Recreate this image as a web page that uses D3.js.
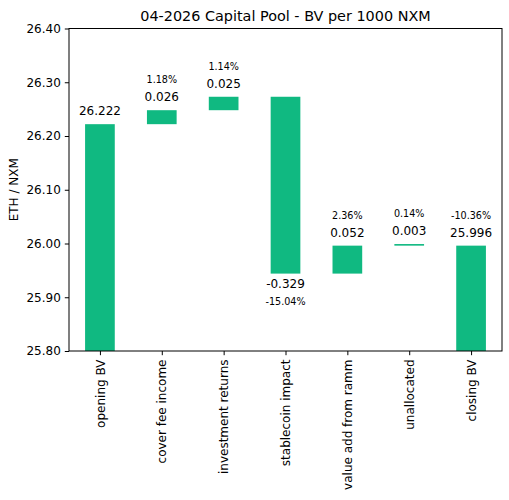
<!DOCTYPE html>
<html>
<head>
<meta charset="utf-8">
<script src="https://cdn.jsdelivr.net/npm/d3@7"></script>
<style>
  body { margin: 0; background: #fff; }
  svg text { font-family: "DejaVu Sans", sans-serif; fill: #000; }
</style>
</head>
<body>
<svg id="chart" width="509" height="500"></svg>
<script>
// =========================
// DADES
// =========================
const categories = ["opening BV", "cover fee income", "investment returns", "stablecoin impact",
  "value add from ramm", "unallocated", "closing BV"];
const changes = [26.222, 0.026, 0.025, -0.329, 0.052, 0.003, 25.996];
const valueLabels = ["26.222", "0.026", "0.025", "-0.329", "0.052", "0.003", "25.996"];
const pctLabels = ["", "1.18%", "1.14%", "-15.04%", "2.36%", "0.14%", "-10.36%"];
const yTicks = [25.80, 25.90, 26.00, 26.10, 26.20, 26.30, 26.40];

const title = "04-2026 Capital Pool - BV per 1000 NXM";
const yTitle = "ETH / NXM";
const barColor = "#10b981";

// =========================
// CÀLCUL CASCADA
// =========================
const yMin = 25.80;
let running = 0;
const bars = categories.map((c, i) => {
  let y0, y1;
  if (i === 0) { y0 = yMin; y1 = changes[i]; running = changes[i]; }
  else if (i === categories.length - 1) { y0 = yMin; y1 = changes[i]; }
  else { y0 = running; y1 = running + changes[i]; running = y1; }
  return { cat: c, y0, y1, neg: y1 < y0, value: valueLabels[i], pct: pctLabels[i] };
});

// =========================
// ESCALES
// =========================
const svg = d3.select("#chart");
const margin = { left: 69, right: 7, top: 28.5, bottom: 149 };
const W = 509, H = 500;

const x = d3.scalePoint()
  .domain(categories)
  .range([margin.left, W - margin.right])
  .padding(0.5);

const y = d3.scaleLinear()
  .domain([25.80, 26.40])
  .range([H - margin.bottom, margin.top]);

const barW = x.step() * 0.48;

// =========================
// BARRES
// =========================
svg.append("g").selectAll("rect")
  .data(bars)
  .enter()
  .append("rect")
  .attr("x", d => x(d.cat) - barW / 2)
  .attr("y", d => y(Math.max(d.y0, d.y1)))
  .attr("width", barW)
  .attr("height", d => Math.max(1.5, Math.abs(y(d.y0) - y(d.y1))))
  .attr("fill", barColor);

// etiquetes de valor i %
const lab = svg.append("g");
bars.forEach(d => {
  const top = y(Math.max(d.y0, d.y1));
  const bot = y(Math.min(d.y0, d.y1));
  if (d.neg) {
    lab.append("text").attr("x", x(d.cat)).attr("y", bot + 14)
      .attr("text-anchor", "middle").style("font-size", "12px").text(d.value);
    lab.append("text").attr("x", x(d.cat)).attr("y", bot + 31.5)
      .attr("text-anchor", "middle").style("font-size", "9.6px").text(d.pct);
  } else {
    lab.append("text").attr("x", x(d.cat)).attr("y", top - 9)
      .attr("text-anchor", "middle").style("font-size", "12px").text(d.value);
    if (d.pct) {
      lab.append("text").attr("x", x(d.cat)).attr("y", top - 27)
        .attr("text-anchor", "middle").style("font-size", "9.6px").text(d.pct);
    }
  }
});

// =========================
// EIXOS
// =========================
const yAxis = svg.append("g")
  .attr("transform", `translate(${margin.left},0)`)
  .call(d3.axisLeft(y).tickValues(yTicks).tickFormat(d3.format(".2f")).tickSizeOuter(0).tickSize(4.2).tickPadding(4));
yAxis.select(".domain").remove();
yAxis.selectAll("text").style("font-size", "12px").style("font-family", "DejaVu Sans");

const xAxis = svg.append("g")
  .attr("transform", `translate(0,${H - margin.bottom})`)
  .call(d3.axisBottom(x).tickSizeOuter(0).tickSize(4.2));
xAxis.select(".domain").remove();
xAxis.selectAll("text")
  .style("font-size", "12px")
  .style("font-family", "DejaVu Sans")
  .attr("text-anchor", "end")
  .attr("dy", "0.35em")
  .attr("transform", "rotate(-90)")
  .attr("x", -8.5)
  .attr("y", 0);

// marc
svg.append("rect")
  .attr("x", margin.left).attr("y", margin.top)
  .attr("width", W - margin.right - margin.left)
  .attr("height", H - margin.bottom - margin.top)
  .attr("fill", "none").attr("stroke", "#000").attr("stroke-width", 1);

// =========================
// TÍTOLS
// =========================
svg.append("text")
  .attr("x", (margin.left + W - margin.right) / 2)
  .attr("y", 21)
  .attr("text-anchor", "middle")
  .style("font-size", "14.4px")
  .text(title);

svg.append("text")
  .attr("transform", `translate(18,${(margin.top + H - margin.bottom) / 2}) rotate(-90)`)
  .attr("text-anchor", "middle")
  .style("font-size", "12px")
  .text(yTitle);
</script>
</body>
</html>
